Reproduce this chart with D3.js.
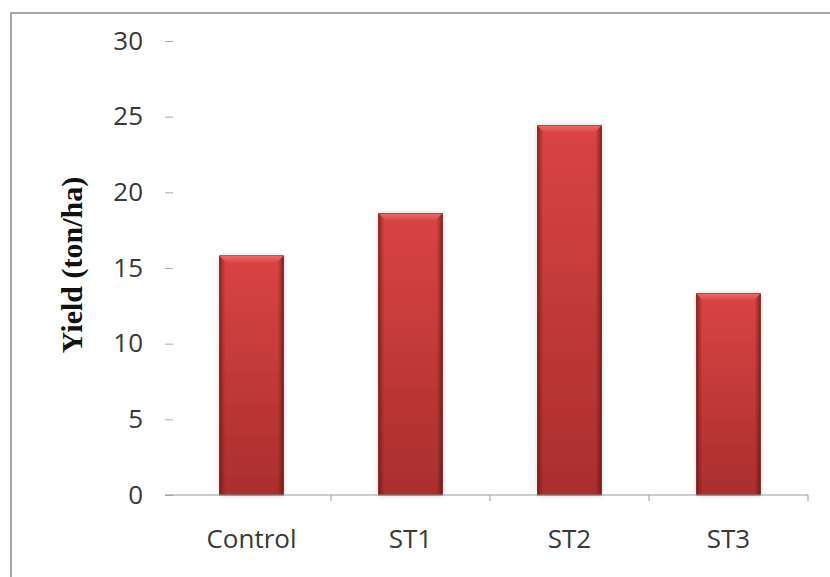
<!DOCTYPE html>
<html>
<head>
<meta charset="utf-8">
<script src="https://cdn.jsdelivr.net/npm/d3@7"></script>
<style>
  body { margin: 0; background: #fff; }
  svg { display: block; }
</style>
</head>
<body>
<svg width="830" height="577"></svg>
<script>
var categories = ["Control", "ST1", "ST2", "ST3"];
var yields = [15.8, 18.6, 24.4, 13.3];
var yTicks = [0, 5, 10, 15, 20, 25, 30];

var svg = d3.select("svg"),
  width = +svg.attr("width"),
  height = +svg.attr("height");

// cropped chart frame (only top + left visible)
svg.append("rect")
  .attr("x", 11).attr("y", 13)
  .attr("width", width + 20).attr("height", height + 20)
  .attr("fill", "#fff")
  .attr("stroke", "#8a8a8a")
  .attr("stroke-width", 1.5);

var x = d3.scaleBand()
  .domain(categories)
  .range([172, 808])
  .paddingInner(0.6)
  .paddingOuter(0.3);

var y = d3.scaleLinear()
  .domain([0, 30])
  .range([495, 41]);

var defs = svg.append("defs");

var vg = defs.append("linearGradient").attr("id", "face")
  .attr("x1", 0).attr("y1", 0).attr("x2", 0).attr("y2", 1);
vg.append("stop").attr("offset", "0%").attr("stop-color", "#d94444");
vg.append("stop").attr("offset", "100%").attr("stop-color", "#ab2e2e");

var hg = defs.append("linearGradient").attr("id", "sides")
  .attr("x1", 0).attr("y1", 0).attr("x2", 1).attr("y2", 0);
hg.append("stop").attr("offset", "0%").attr("stop-color", "#5a1010").attr("stop-opacity", 0.55);
hg.append("stop").attr("offset", "9%").attr("stop-color", "#5a1010").attr("stop-opacity", 0.0);
hg.append("stop").attr("offset", "91%").attr("stop-color", "#5a1010").attr("stop-opacity", 0.0);
hg.append("stop").attr("offset", "100%").attr("stop-color", "#5a1010").attr("stop-opacity", 0.6);

var tg = defs.append("linearGradient").attr("id", "topbevel")
  .attr("x1", 0).attr("y1", 0).attr("x2", 0).attr("y2", 1);
tg.append("stop").attr("offset", "0%").attr("stop-color", "#f07070");
tg.append("stop").attr("offset", "100%").attr("stop-color", "#d94646");

defs.append("filter").attr("id", "shadow")
  .attr("x", "-20%").attr("y", "-5%").attr("width", "140%").attr("height", "110%")
  .append("feDropShadow")
  .attr("dx", 0).attr("dy", 0).attr("stdDeviation", 2.5)
  .attr("flood-color", "#000").attr("flood-opacity", 0.18);

var labelFont = "'Open Sans', Lato, sans-serif";

// y axis: ticks only, no line
var yAxis = svg.append("g")
  .attr("transform", "translate(173,0)")
  .call(d3.axisLeft(y).tickValues(yTicks).tickSize(8).tickPadding(22));
yAxis.select(".domain").remove();
yAxis.selectAll("line").attr("stroke", "#aaa");
yAxis.selectAll("text")
  .attr("font-family", labelFont)
  .attr("font-size", 26)
  .attr("fill", "#383838");

// bars
var bars = svg.append("g").selectAll("g")
  .data(categories)
  .enter().append("g");

bars.append("rect")
  .attr("x", function(d) { return x(d); })
  .attr("y", function(d, i) { return y(yields[i]); })
  .attr("width", x.bandwidth())
  .attr("height", function(d, i) { return y(0) - y(yields[i]); })
  .attr("fill", "url(#face)")
  .attr("stroke", "#7a1f1f")
  .attr("stroke-width", 1)
  .attr("filter", "url(#shadow)");

bars.append("rect")
  .attr("x", function(d) { return x(d); })
  .attr("y", function(d, i) { return y(yields[i]); })
  .attr("width", x.bandwidth())
  .attr("height", function(d, i) { return y(0) - y(yields[i]); })
  .attr("fill", "url(#sides)");

// top bevel as trapezoid
bars.append("path")
  .attr("d", function(d, i) {
    var x0 = x(d), x1 = x(d) + x.bandwidth(), t = y(yields[i]), b = 7;
    return "M" + x0 + "," + t + "L" + x1 + "," + t + "L" + (x1 - b) + "," + (t + b) + "L" + (x0 + b) + "," + (t + b) + "Z";
  })
  .attr("fill", "url(#topbevel)")
  .attr("opacity", 0.9);

// x axis
var xAxis = svg.append("g")
  .attr("transform", "translate(0,495)");
xAxis.append("line")
  .attr("x1", 165).attr("x2", x.range()[1])
  .attr("stroke", "#999").attr("stroke-width", 1.2);
var bounds = categories.map(function(d) { return x(d) + x.bandwidth() + x.step() * x.paddingInner() / 2; });
xAxis.selectAll(".xt")
  .data(bounds)
  .enter().append("line")
  .attr("class", "xt")
  .attr("x1", function(d) { return d; }).attr("x2", function(d) { return d; })
  .attr("y1", 0).attr("y2", 6)
  .attr("stroke", "#999");
xAxis.selectAll(".xl")
  .data(categories)
  .enter().append("text")
  .attr("class", "xl")
  .attr("x", function(d) { return x(d) + x.bandwidth() / 2; })
  .attr("y", 53)
  .attr("text-anchor", "middle")
  .attr("font-family", labelFont)
  .attr("font-size", 26)
  .attr("fill", "#383838")
  .text(function(d) { return d; });

// y title
svg.append("text")
  .attr("transform", "translate(82,265) rotate(-90)")
  .attr("text-anchor", "middle")
  .attr("font-family", "'Liberation Serif', 'Times New Roman', serif")
  .attr("font-weight", "bold")
  .attr("font-size", 30)
  .attr("fill", "#111")
  .text("Yield (ton/ha)");
</script>
</body>
</html>
